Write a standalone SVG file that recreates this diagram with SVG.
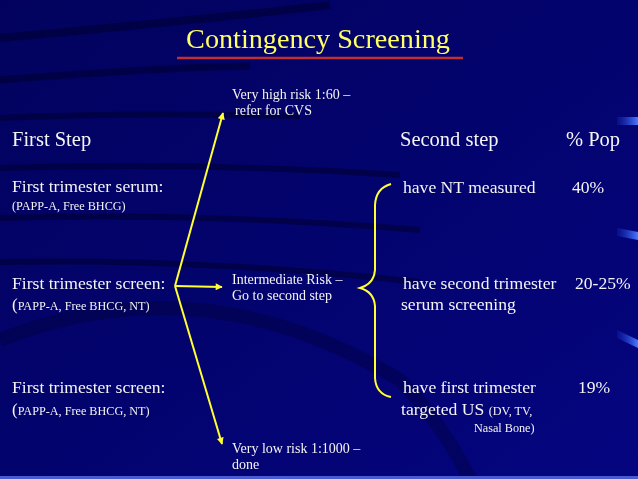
<svg xmlns="http://www.w3.org/2000/svg" width="638" height="479" viewBox="0 0 638 479">
<defs>
<linearGradient id="bg" x1="0" y1="0" x2="1" y2="1">
<stop offset="0" stop-color="#02025e"/>
<stop offset="0.5" stop-color="#03036e"/>
<stop offset="1" stop-color="#050580"/>
</linearGradient>
<linearGradient id="tab" x1="0" y1="0" x2="1" y2="0">
<stop offset="0" stop-color="#1a3ad0" stop-opacity="0.2"/>
<stop offset="1" stop-color="#4a7aff"/>
</linearGradient>
<marker id="ah" viewBox="0 0 10 10" refX="9" refY="5" markerWidth="8" markerHeight="7" markerUnits="userSpaceOnUse" orient="auto">
<path d="M0,0 L10,5 L0,10 z" fill="#ffff33"/>
</marker>
<style>
.t{font-family:"Liberation Serif","Times New Roman",serif;fill:#f4f4f4}
.h{font-size:20.5px}
.m{font-size:17.6px}
.s{font-size:12.2px}
.r{font-size:14px}
.c{stroke:#ffff33;stroke-width:2;fill:none}
</style>
</defs>
<rect width="638" height="479" fill="url(#bg)"/>
<g opacity="0.55" fill="none" stroke="#000030">
<path d="M0,38 Q200,20 330,5" stroke-width="8"/>
<path d="M0,80 Q150,68 250,66" stroke-width="7"/>
<path d="M0,118 Q120,112 300,116" stroke-width="6"/>
<path d="M0,168 Q200,162 400,175" stroke-width="6"/>
<path d="M0,218 Q200,212 420,230" stroke-width="6"/>
<path d="M0,262 Q200,258 420,282" stroke-width="6"/>
<path d="M0,340 Q200,260 400,380 Q440,420 470,479" stroke-width="14" opacity="0.6"/>
</g>
<rect x="617" y="117" width="21" height="8" fill="url(#tab)"/>
<path d="M617,228 L638,232 L638,240 L617,236 z" fill="url(#tab)"/>
<path d="M617,330 L638,340 L638,348 L617,338 z" fill="url(#tab)"/>
<rect x="0" y="476" width="638" height="3" fill="#4a5ad0"/>

<g id="title">
<text x="318" y="48" text-anchor="middle" style="font-family:'Liberation Serif','Times New Roman',serif;font-size:28.2px;fill:#ffff66">Contingency Screening</text>
<line x1="177" y1="58" x2="463" y2="58" stroke="#c03030" stroke-width="2.5"/>
</g>

<g id="first-step">
<text class="t h" x="12" y="146">First Step</text>
</g>
<g id="serum">
<text class="t m" x="12" y="192">First trimester serum:</text>
<text class="t s" x="12" y="210">(PAPP-A, Free BHCG)</text>
</g>
<g id="screen1">
<text class="t m" x="12" y="289">First trimester screen:</text>
<text class="t s" x="12" y="310"><tspan font-size="17">(</tspan>PAPP-A, Free BHCG, NT)</text>
</g>
<g id="screen2">
<text class="t m" x="12" y="393">First trimester screen:</text>
<text class="t s" x="12" y="415"><tspan font-size="17">(</tspan>PAPP-A, Free BHCG, NT)</text>
</g>

<g id="high-risk">
<text class="t r" x="232" y="99">Very high risk 1:60 –</text>
<text class="t r" x="235" y="115">refer for CVS</text>
</g>
<g id="intermediate">
<text class="t r" x="232" y="284">Intermediate Risk –</text>
<text class="t r" x="232" y="300">Go to second step</text>
</g>
<g id="low-risk">
<text class="t r" x="232" y="453">Very low risk 1:1000 –</text>
<text class="t r" x="232" y="469">done</text>
</g>

<g id="second-step">
<text class="t h" x="400" y="146">Second step</text>
<text class="t h" x="566" y="146">% Pop</text>
</g>
<g id="nt">
<text class="t m" x="403" y="193">have NT measured</text>
<text class="t m" x="572" y="193">40%</text>
</g>
<g id="serum2">
<text class="t m" x="403" y="289">have second trimester</text>
<text class="t m" x="575" y="289">20-25%</text>
<text class="t m" x="401" y="310">serum screening</text>
</g>
<g id="us">
<text class="t m" x="403" y="393">have first trimester</text>
<text class="t m" x="578" y="393">19%</text>
<text class="t m" x="401" y="415">targeted US <tspan font-size="12.2">(DV, TV,</tspan></text>
<text class="t s" x="474" y="432">Nasal Bone)</text>
</g>

<g id="connectors">
<line class="c" x1="175" y1="286" x2="223" y2="113" marker-end="url(#ah)"/>
<line class="c" x1="175" y1="286" x2="222" y2="287" marker-end="url(#ah)"/>
<line class="c" x1="175" y1="286" x2="222" y2="444" marker-end="url(#ah)"/>
<path class="c" d="M391,184 Q376,188 375,205 L375,270 Q374,284 360,288 Q374,292 375,306 L375,378 Q376,394 391,397"/>
</g>
</svg>
